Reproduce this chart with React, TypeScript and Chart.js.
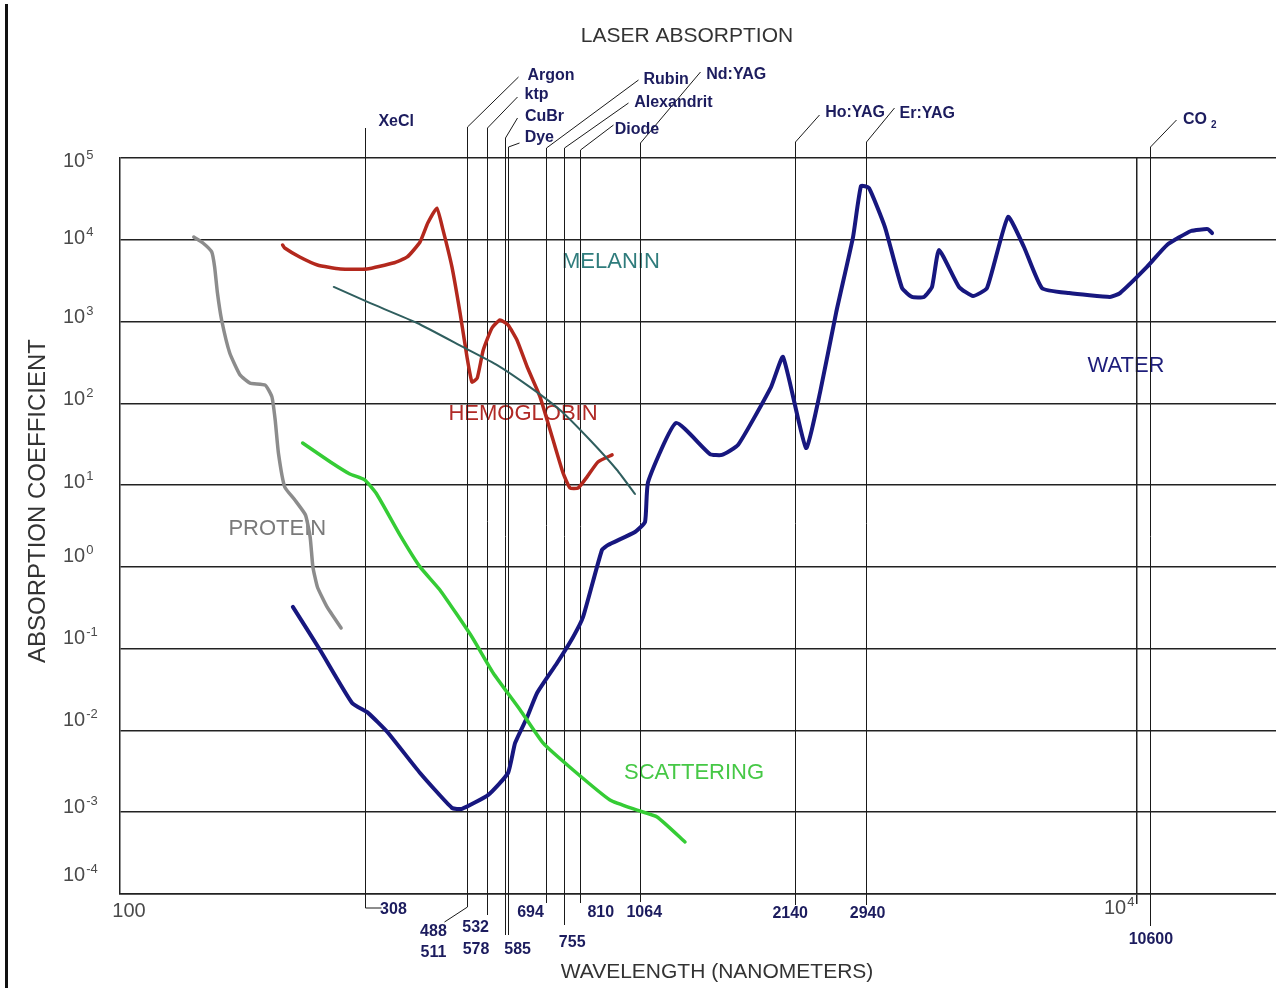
import React, { useEffect, useRef } from 'react';
import { Chart, registerables } from 'chart.js';

Chart.register(...registerables);

// ---------------- DATA ----------------
// wavelengths in nm, absorption coefficient (log scale)
const proteinX = [142, 148, 154, 156, 158, 161, 167, 175, 183, 196, 202, 205, 208, 214, 224, 235, 240, 243, 248, 259, 276];
const proteinY = [10800, 9140, 7090, 4650, 2230, 1045, 413, 222, 177, 167, 120, 62.5, 24.7, 9.49, 6.58, 4.31, 2.32, 1.0, 0.568, 0.324, 0.179];

const hemoglobinX = [212, 214, 229, 248, 275, 310, 349, 372, 394, 408, 425, 437, 455, 472, 487, 498, 510, 524, 545, 565, 586, 610, 639, 677, 718, 751, 775, 804, 837, 879, 937];
const hemoglobinY = [8630, 7930, 6160, 4920, 4390, 4390, 5200, 6160, 9400, 16000, 24400, 13200, 4650, 1270, 369, 182, 204, 449, 834, 1045, 908, 595, 278, 120, 35.6, 14.1, 9.23, 9.23, 12.6, 19.2, 23.4];

const melaninX = [267, 314, 389, 478, 558, 647, 741, 848, 958, 1039];
const melaninY = [2650, 1690, 960, 489, 294, 158, 82.9, 35.6, 15.3, 7.79];

const scatteringX = [232, 263, 287, 307, 324, 360, 394, 431, 498, 548, 619, 686, 786, 928, 1049, 1148, 1302];
const scatteringY = [32.7, 19.2, 13.7, 11.6, 7.79, 2.45, 1.0, 0.522, 0.139, 0.0505, 0.0178, 0.00703, 0.00328, 0.00141, 0.00106, 0.000875, 0.000433];

const waterX = [222, 251, 290, 312, 340, 394, 455, 476, 536, 586, 605, 639, 668, 731, 786, 822, 895, 920, 1039, 1087, 1102, 1250, 1457, 1538, 1654, 1919, 2026, 2247, 2393, 2573, 2778, 2880, 2985, 3208, 3465, 3625, 3826, 3967, 4094, 4481, 4772, 5084, 5588, 6006, 6514, 7359, 8852, 9262, 10460, 11450, 12760, 13770, 14030];
const waterY = [0.324, 0.0964, 0.0217, 0.0163, 0.00957, 0.00302, 0.00113, 0.0011, 0.00163, 0.00302, 0.00703, 0.0146, 0.0287, 0.0668, 0.139, 0.244, 1.61, 1.85, 2.67, 3.54, 10.9, 57.5, 24.0, 23.4, 31.0, 158, 369, 28.4, 134, 1270, 10800, 45500, 43000, 14300, 2570, 2000, 2000, 2650, 7500, 2650, 2050, 2570, 19000, 8160, 2570, 2230, 2000, 2230, 4650, 8630, 12800, 13500, 12100];

// lasers
const laserNames = ['XeCl', 'Argon', 'ktp', 'CuBr', 'Dye', 'Rubin', 'Alexandrit', 'Diode', 'Nd:YAG', 'Ho:YAG', 'Er:YAG', 'CO'];
const laserNameSub = ['', '', '', '', '', '', '', '', '', '', '', '2'];
const laserWavelengths = [308, 488, 532, 578, 585, 694, 755, 810, 1064, 2140, 2940, 10600];
const laserBottomLabels = [['308'], ['488', '511'], ['532'], ['578'], ['585'], ['694'], ['755'], ['810'], ['1064'], ['2140'], ['2940'], ['10600']];

// axis ticks
const yTickExponents = [5, 4, 3, 2, 1, 0, -1, -2, -3, -4];
const xGridValues = [10000];

// curve name labels
const curveLabelText = ['MELANIN', 'HEMOGLOBIN', 'PROTEIN', 'WATER', 'SCATTERING'];
const curveLabelAtX = [932, 627, 207, 9516, 1356];
const curveLabelAtY = [5350, 74.1, 2.9, 286, 0.00302];

// ---------------- STYLE / LAYOUT ----------------
const FONT = '"Liberation Sans", Arial, Helvetica, sans-serif';
const curveLabelColor = ['#2f7c7c', '#b02a26', '#7a7a7a', '#1d1d7a', '#46c846'];
const laserInk = '#1c1c5e';

// px offsets for the laser annotation lines and labels
const laserTopGap = [30, 31, 30, 20, 11, 10, 10, 8, 15, 16, 16, 11];
const laserLeaderDx = [0, 51, 30, 12, 11, 92, 64, 33, 60, 24, 28, 26];
const laserLeaderGap = [0, 81, 61, 40, 15, 78, 55, 33, 86, 43, 50, 38];
const laserLabelDx = [13, 60, 38, 20, 17, 98, 70, 35, 66, 30, 34, 33];
const laserLabelGap = [36, 82, 63, 41, 20, 78, 55, 28, 83, 45, 44, 38];
const laserBottomGap = [14, 13, 21, 41, 41, 9, 31, 9, 8, 11, 11, 32];
const laserHookDx = [16, -23, 0, 0, 0, 0, 0, 0, 0, 0, 0, 0];
const laserHookGap = [14, 28, 0, 0, 0, 0, 0, 0, 0, 0, 0, 0];
const laserBottomLabelDx = [28, -34, -11, -29, 10, -15, 8, 21, 4, -5, 2, 1];
const laserBottomLabelGap = [16, 38, 34, 56, 56, 19, 49, 19, 19, 20, 20, 46];
const yLabelNudge = [3, -1, -4, -4, -3, -10, -10, -10, -5, -19];

const toPoints = (xs: number[], ys: number[]) => xs.map((x, i) => ({ x, y: ys[i] }));

const overlayPlugin = {
  id: 'overlay',
  beforeDraw(chart: any) {
    const { ctx, scales } = chart;
    ctx.save();
    ctx.fillStyle = '#ffffff';
    ctx.fillRect(0, 0, chart.width, chart.height);
    ctx.font = `22px ${FONT}`;
    ctx.textAlign = 'center';
    ctx.textBaseline = 'middle';
    curveLabelText.forEach((t, i) => {
      ctx.fillStyle = curveLabelColor[i];
      ctx.fillText(t, scales.x.getPixelForValue(curveLabelAtX[i]), scales.y.getPixelForValue(curveLabelAtY[i]));
    });
    ctx.restore();
  },
  beforeDatasetsDraw(chart: any) {
    const { ctx, chartArea: a, scales } = chart;
    ctx.save();
    ctx.strokeStyle = '#1a1a1a';
    ctx.lineWidth = 1;
    laserWavelengths.forEach((w, i) => {
      const x = Math.round(scales.x.getPixelForValue(w)) + 0.5;
      const top = a.top - laserTopGap[i];
      const bot = a.bottom + laserBottomGap[i];
      ctx.beginPath();
      ctx.moveTo(x, bot);
      ctx.lineTo(x, top);
      if (laserLeaderDx[i] !== 0) ctx.lineTo(x + laserLeaderDx[i], a.top - laserLeaderGap[i]);
      ctx.stroke();
      if (laserHookDx[i] !== 0) {
        ctx.beginPath();
        ctx.moveTo(x, bot);
        ctx.lineTo(x + laserHookDx[i], a.bottom + laserHookGap[i]);
        ctx.stroke();
      }
    });
    ctx.restore();
  },
  afterDraw(chart: any) {
    const { ctx, chartArea: a, scales } = chart;
    ctx.save();
    // laser names
    ctx.fillStyle = laserInk;
    ctx.textBaseline = 'middle';
    laserNames.forEach((n, i) => {
      const x = scales.x.getPixelForValue(laserWavelengths[i]);
      const lx = x + laserLabelDx[i];
      const ly = a.top - laserLabelGap[i];
      ctx.font = `bold 16px ${FONT}`;
      ctx.textAlign = 'left';
      ctx.fillText(n, lx, ly);
      if (laserNameSub[i]) {
        const w = ctx.measureText(n).width;
        ctx.font = `bold 10px ${FONT}`;
        ctx.fillText(laserNameSub[i], lx + w + 4, ly + 5);
      }
      // bottom wavelength labels
      ctx.font = `bold 16px ${FONT}`;
      ctx.textAlign = 'center';
      laserBottomLabels[i].forEach((t, k) => {
        ctx.fillText(t, x + laserBottomLabelDx[i], a.bottom + laserBottomLabelGap[i] + k * 21);
      });
    });

    // y tick labels with superscripts
    ctx.fillStyle = '#4a4a4a';
    ctx.textAlign = 'left';
    yTickExponents.forEach((e, i) => {
      const py = scales.y.getPixelForValue(Math.pow(10, e)) + yLabelNudge[i];
      const lx = a.left - 57;
      ctx.font = `20px ${FONT}`;
      ctx.fillText('10', lx, py);
      const w = ctx.measureText('10').width;
      ctx.font = `13px ${FONT}`;
      ctx.fillText(String(e), lx + w + 1, py - 6);
    });

    // x tick labels
    ctx.font = `20px ${FONT}`;
    ctx.textAlign = 'center';
    ctx.fillText('100', scales.x.getPixelForValue(100) + 13, a.bottom + 17);
    xGridValues.forEach((v) => {
      const gx = scales.x.getPixelForValue(v);
      ctx.font = `20px ${FONT}`;
      ctx.textAlign = 'left';
      ctx.fillText('10', gx - 33, a.bottom + 14);
      const w = ctx.measureText('10').width;
      ctx.font = `13px ${FONT}`;
      ctx.fillText(String(Math.round(Math.log10(v))), gx - 33 + w + 1, a.bottom + 8);
    });

    // titles
    ctx.fillStyle = '#333333';
    ctx.textAlign = 'center';
    ctx.font = `21px ${FONT}`;
    ctx.fillText('LASER ABSORPTION', 687, 36);
    ctx.fillText('WAVELENGTH (NANOMETERS)', 717, 972);
    ctx.save();
    ctx.translate(38, 501);
    ctx.rotate(-Math.PI / 2);
    ctx.font = `24px ${FONT}`;
    ctx.fillText('ABSORPTION COEFFICIENT', 0, 0);
    ctx.restore();

    // left page border of the original scan
    ctx.fillStyle = '#111111';
    ctx.fillRect(5, 4, 3, chart.height - 4);
    ctx.restore();
  },
};

export default function App() {
  const canvasRef = useRef<HTMLCanvasElement | null>(null);

  useEffect(() => {
    if (!canvasRef.current) return;
    const line = (data: any[], color: string, width: number) => ({
      data,
      showLine: true,
      borderColor: color,
      backgroundColor: color,
      borderWidth: width,
      pointRadius: 0,
      pointHoverRadius: 0,
      tension: 0.15,
      borderJoinStyle: 'round',
      borderCapStyle: 'round',
      fill: false,
    });
    const chart = new Chart(canvasRef.current, {
      type: 'scatter',
      data: {
        datasets: [
          { label: 'Protein', ...line(toPoints(proteinX, proteinY), '#8c8c8c', 3.5) },
          { label: 'Melanin', ...line(toPoints(melaninX, melaninY), '#2f5e5e', 2) },
          { label: 'Hemoglobin', ...line(toPoints(hemoglobinX, hemoglobinY), '#b3281d', 3.5) },
          { label: 'Scattering', ...line(toPoints(scatteringX, scatteringY), '#35cc35', 3.5) },
          { label: 'Water', ...line(toPoints(waterX, waterY), '#17177f', 4) },
        ] as any,
      },
      options: {
        responsive: false,
        animation: false,
        devicePixelRatio: 1,
        events: [],
        layout: { padding: { left: 120, top: 158, right: 0, bottom: 84 } },
        plugins: { legend: { display: false }, tooltip: { enabled: false }, title: { display: false } },
        scales: {
          x: {
            type: 'logarithmic',
            min: 101.8,
            max: 18720,
            afterBuildTicks: (axis: any) => {
              axis.ticks = xGridValues.map((v) => ({ value: v }));
            },
            afterFit: (axis: any) => {
              axis.height = 10;
            },
            ticks: { display: false },
            grid: { color: '#222222', lineWidth: 1.5, drawTicks: true, tickLength: 10, tickColor: '#222222' },
            border: { display: true, color: '#222222', width: 1.5 },
          },
          y: {
            type: 'logarithmic',
            min: 1e-4,
            max: 1e5,
            afterBuildTicks: (axis: any) => {
              axis.ticks = yTickExponents.map((e) => ({ value: Math.pow(10, e) }));
            },
            afterFit: (axis: any) => {
              axis.width = 0;
            },
            ticks: { display: false },
            grid: { color: '#222222', lineWidth: 1.5, drawTicks: false },
            border: { display: true, color: '#222222', width: 1.5 },
          },
        },
      } as any,
      plugins: [overlayPlugin],
    });
    return () => chart.destroy();
  }, []);

  return (
    <div style={{ position: 'absolute', left: 0, top: 0, width: 1276, height: 988, background: '#fff' }}>
      <canvas ref={canvasRef} width={1276} height={988} style={{ display: 'block' }} />
    </div>
  );
}
